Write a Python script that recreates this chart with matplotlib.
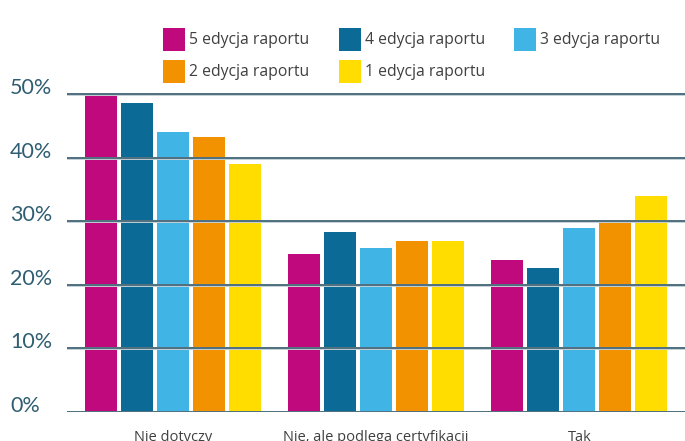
import matplotlib
matplotlib.use("Agg")
import matplotlib.pyplot as plt
import numpy as np
from matplotlib.patches import Rectangle
from matplotlib.transforms import blended_transform_factory

categories = ["Nie dotyczy", "Nie, ale podlega certyfikacji", "Tak"]
series_names = ["5 edycja raportu", "4 edycja raportu", "3 edycja raportu",
                "2 edycja raportu", "1 edycja raportu"]
edition5 = [50.0, 24.8, 23.9]
edition4 = [48.6, 28.3, 22.6]
edition3 = [44.0, 25.8, 28.9]
edition2 = [43.2, 26.9, 30.0]
edition1 = [39.0, 26.9, 34.0]
series_values = [edition5, edition4, edition3, edition2, edition1]
colors = ["#C0097D", "#0B6A96", "#41B4E6", "#F39200", "#FFDD00"]
y_ticks = [0, 10, 20, 30, 40, 50]
y_tick_labels = ["0%", "10%", "20%", "30%", "40%", "50%"]

W, H = 685, 441
fig = plt.figure(figsize=(W / 100, H / 100), dpi=100)
fig.patch.set_facecolor("white")

# axes: x from 67px to right edge, 0% at y=412px, 10% step = 63.6px
y0_px = 412
px_per_unit = 6.36
ymax = 55
top_px = y0_px - ymax * px_per_unit
ax = fig.add_axes([67 / W, 1 - y0_px / H, 1 - 67 / W, (y0_px - top_px) / H])
ax.set_xlim(-0.52, 2.52)
ax.set_ylim(0, ymax)
for s in ax.spines.values():
    s.set_visible(False)
ax.set_yticks([])
ax.tick_params(axis="x", length=0, pad=13)

x = np.arange(len(categories))
pitch = 0.177
width = 0.158
for i, (vals, col) in enumerate(zip(series_values, colors)):
    ax.bar(x + (i - 2) * pitch, vals, width=width, color=col, zorder=2)

grid_col = "#3b5f70"
for t in y_ticks:
    ax.axhline(t, color="#c3d0d6", lw=2.1, zorder=3)
    ax.axhline(t, color=grid_col, lw=1.2, zorder=4)

ax.set_xticks(x)
ax.set_xticklabels(categories, fontsize=10.5, color="#404040",
                   fontfamily="Open Sans")

trans = blended_transform_factory(fig.transFigure, ax.transData)
for t, lab in zip(y_ticks, y_tick_labels):
    ax.text(10 / W, t, lab, transform=trans, ha="left", va="baseline",
            fontsize=15.5, color="#2f5e72", fontfamily="Lato", clip_on=False)

# legend: three columns, two rows
col_x = [163, 339, 514]
row_y = [28, 60]
sq_w, sq_h = 22, 23
for k, (name, col) in enumerate(zip(series_names, colors)):
    r, c = divmod(k, 3)
    lx, ty = col_x[c], row_y[r]
    fig.add_artist(Rectangle((lx / W, 1 - (ty + sq_h) / H), sq_w / W, sq_h / H,
                             transform=fig.transFigure, color=col, lw=0))
    fig.text((lx + sq_w + 4) / W, 1 - (ty + sq_h / 2 + 0.5) / H, name,
             ha="left", va="center", fontsize=11.3, color="#404040",
             fontfamily="Open Sans")

fig.savefig("out.png", dpi=100)
